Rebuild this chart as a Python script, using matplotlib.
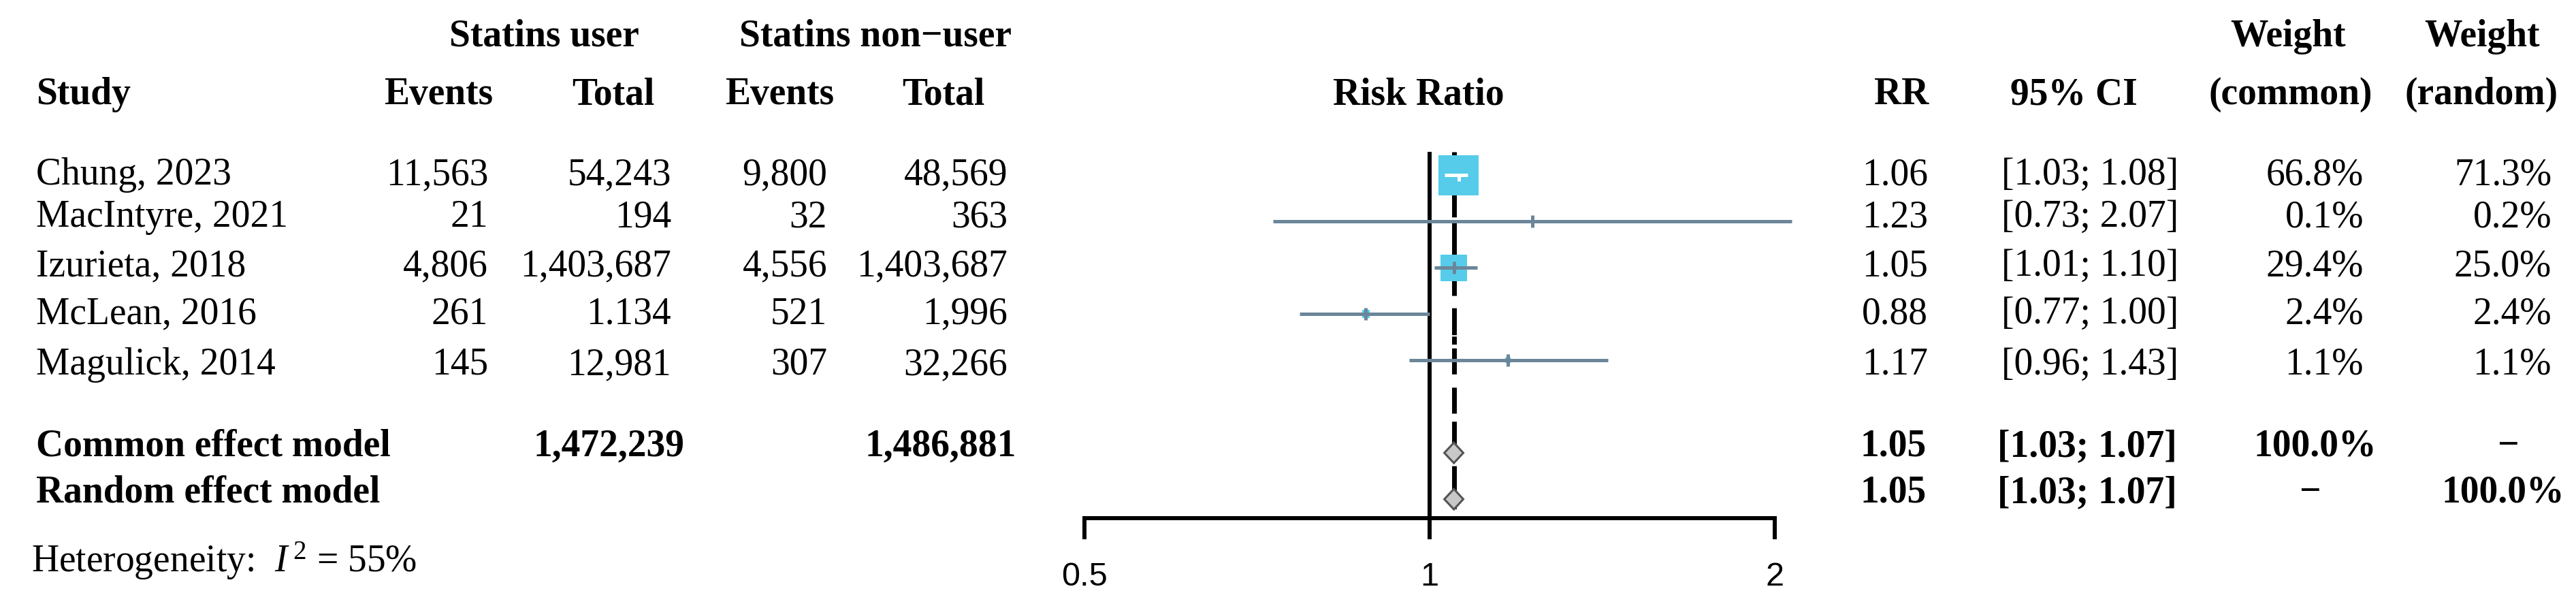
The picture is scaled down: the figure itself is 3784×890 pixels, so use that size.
import numpy as np
import matplotlib
matplotlib.use("Agg")
import matplotlib.pyplot as plt

# study level data
studies = ["Chung, 2023", "MacIntyre, 2021", "Izurieta, 2018", "McLean, 2016", "Magulick, 2014"]
ev_user = ["11,563", "21", "4,806", "261", "145"]
tot_user = ["54,243", "194", "1,403,687", "1.134", "12,981"]
ev_non = ["9,800", "32", "4,556", "521", "307"]
tot_non = ["48,569", "363", "1,403,687", "1,996", "32,266"]
rr = [1.06, 1.23, 1.05, 0.88, 1.17]
lo = [1.03, 0.73, 1.01, 0.77, 0.96]
hi = [1.08, 2.07, 1.10, 1.00, 1.43]
w_common = [66.8, 0.1, 29.4, 2.4, 1.1]
w_random = [71.3, 0.2, 25.0, 2.4, 1.1]

# pooled results
tot_user_all = "1,472,239"
tot_non_all = "1,486,881"
common = [1.05, 1.03, 1.07]
random_ = [1.05, 1.03, 1.07]
i2 = 55

xticks = [0.5, 1, 2]

plt.rcParams['font.family'] = ['Liberation Serif', 'DejaVu Serif']
plt.rcParams['mathtext.fontset'] = 'custom'
plt.rcParams['mathtext.rm'] = 'Liberation Serif'
plt.rcParams['mathtext.it'] = 'Liberation Serif:italic'

W, H = 3784, 890
fig = plt.figure(figsize=(W / 100, H / 100), dpi=100)

# text layer in pixel coordinates
tx = fig.add_axes([0, 0, 1, 1])
tx.set_xlim(0, W)
tx.set_ylim(H, 0)
tx.axis("off")

fs = 40
sq_col = "#56CCEA"
ln_col = "#6B8699"

def t(x, y, s, ha="right", bold=False):
    tx.text(x, y, s, ha=ha, va="baseline", fontsize=fs,
            fontweight="bold" if bold else "normal")

# headers
t(799, 68, "Statins user", "center", True)
t(1286, 68, "Statins non\u2212user", "center", True)
t(3361, 68, "Weight", "center", True)
t(3646, 68, "Weight", "center", True)
t(53, 153, "Study", "left", True)
t(724, 153, "Events", bold=True)
t(962, 153, "Total", bold=True)
t(1225, 153, "Events", bold=True)
t(1447, 153, "Total", bold=True)
t(2084, 153, "Risk Ratio", "center", True)
t(2793, 153, "RR", "center", True)
t(3046, 153, "95% CI", "center", True)
t(3365, 153, "(common)", "center", True)
t(3645, 153, "(random)", "center", True)

rows_y = [271, 333, 405, 475, 550]
for i in range(len(studies)):
    y = rows_y[i]
    t(53, y, studies[i], "left")
    t(717, y, ev_user[i])
    t(986, y, tot_user[i])
    t(1215, y, ev_non[i])
    t(1480, y, tot_non[i])
    t(2832, y, f"{rr[i]:.2f}")
    t(3200, y, f"[{lo[i]:.2f}; {hi[i]:.2f}]")
    t(3472, y, f"{w_common[i]:.1f}%")
    t(3748, y, f"{w_random[i]:.1f}%")

# summary rows
t(53, 670, "Common effect model", "left", True)
t(1005, 670, tot_user_all, bold=True)
t(1493, 670, tot_non_all, bold=True)
t(2830, 670, f"{common[0]:.2f}", bold=True)
t(3198, 670, f"[{common[1]:.2f}; {common[2]:.2f}]", bold=True)
t(3491, 670, "100.0%", bold=True)
t(3684, 670, "\u2212", "center", True)

t(53, 738, "Random effect model", "left", True)
t(2830, 738, f"{random_[0]:.2f}", bold=True)
t(3198, 738, f"[{random_[1]:.2f}; {random_[2]:.2f}]", bold=True)
t(3393, 738, "\u2212", "center", True)
t(3767, 738, "100.0%", bold=True)

t(46, 840, "Heterogeneity:  $I^{\\,2}$ = " + f"{i2}%", "left")

# forest panel, log scale
x0, x1 = 1593, 2607
ax = fig.add_axes([x0 / W, (H - 761) / H, (x1 - x0) / W, 761 / H])
ax.set_xscale("log")
ax.set_xlim(0.5, 2)
ax.set_ylim(7.41, -3.78)
ax.patch.set_alpha(0)
for s in ["left", "right", "top"]:
    ax.spines[s].set_visible(False)
ax.spines["bottom"].set_linewidth(4.3)
ax.set_yticks([])
ax.set_xticks(xticks)
ax.set_xticklabels(["0.5", "1", "2"])
ax.minorticks_off()
ax.tick_params(axis="x", direction="out", length=22, width=4.3, pad=24,
               labelsize=35)
for lab in ax.get_xticklabels():
    lab.set_fontfamily("Liberation Sans")

ypos = np.arange(len(studies))
y_common, y_random = 6, 7

# reference line and pooled lines
ax.plot([1, 1], [-0.5, 7.41], color="black", lw=4.3, solid_capstyle="butt", clip_on=False)
ax.plot([common[0]] * 2, [-0.5, 7.2], color="black", lw=5,
        linestyle=(0, (5.5, 2.8)), clip_on=False)
ax.plot([random_[0]] * 2, [-0.5, 7.2], color="black", lw=5,
        linestyle=(3, (1.7, 4.3)), clip_on=False)

# squares sized by common weight
side = 42.5 * np.sqrt(np.array(w_common) / max(w_common))
ax.scatter(rr, ypos, s=side ** 2, marker="s", color=sq_col, linewidths=0,
           zorder=3, clip_on=False)

# CI lines, white when the interval sits inside its square
inside = [True, False, False, False, False]
for i in range(len(studies)):
    c = "white" if inside[i] else ln_col
    ax.plot([lo[i], hi[i]], [ypos[i], ypos[i]], color=c, lw=3.6,
            solid_capstyle="butt", zorder=4, clip_on=False)
    top = ypos[i] if inside[i] else ypos[i] - 0.13
    ax.plot([rr[i], rr[i]], [top, ypos[i] + 0.13], color=c, lw=3.6,
            solid_capstyle="butt", zorder=4, clip_on=False)

# diamonds
for est, y in [(common, y_common), (random_, y_random)]:
    ax.fill([est[1], est[0], est[2], est[0]], [y, y - 0.22, y, y + 0.22],
            facecolor="#C8C8C8", edgecolor="#555555", lw=2.2, zorder=5,
            clip_on=False)

fig.savefig("out.png", dpi=100)
